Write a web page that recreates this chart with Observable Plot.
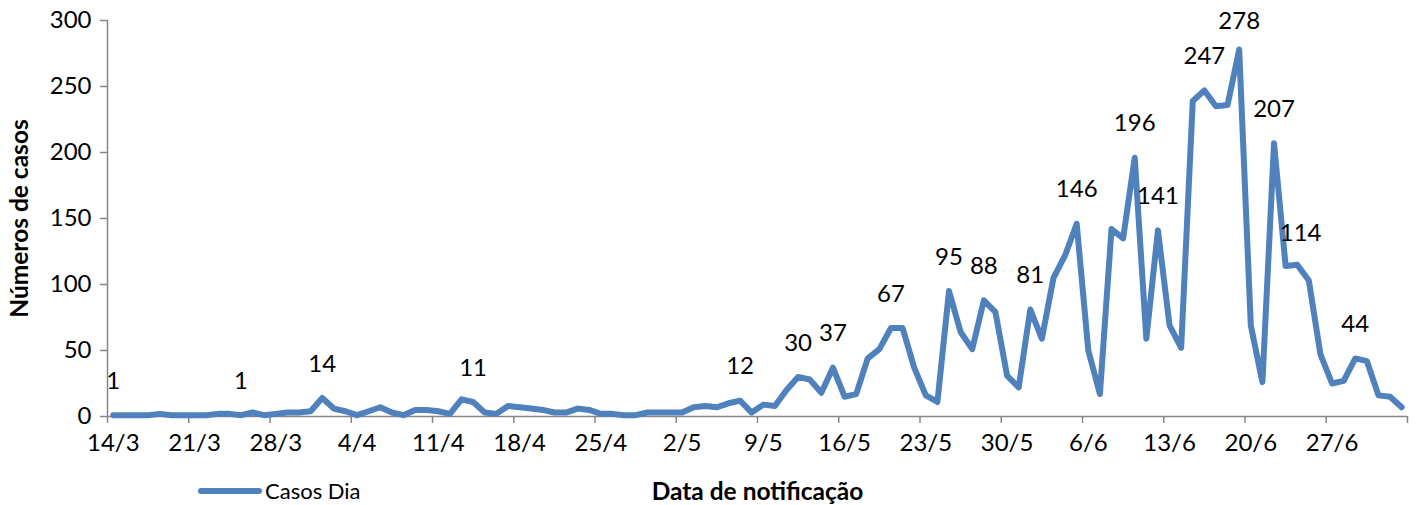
<!DOCTYPE html>
<html>
<head>
<meta charset="utf-8">
<script src="https://cdn.jsdelivr.net/npm/d3@7"></script>
<script src="https://cdn.jsdelivr.net/npm/@observablehq/plot@0.6"></script>
<style>
  body { margin: 0; background: #fff; font-family: Lato, sans-serif; }
  #wrap { position: relative; width: 1417px; height: 505px; }
  #legend { position: absolute; left: 198px; top: 477px; display: flex; align-items: center; font-size: 22px; color: #000; }
  #legend .sw { display: inline-block; width: 64px; height: 6px; border-radius: 3px; background: #4F81BD; margin-right: 3px; }
</style>
</head>
<body>
<div id="wrap"><div id="legend"><span class="sw"></span><span>Casos Dia</span></div></div>
<script>
const dates = [
  "14/3","15/3","16/3","17/3","18/3","19/3","20/3","21/3","22/3","23/3","24/3","25/3","26/3","27/3","28/3","29/3","30/3","31/3",
  "1/4","2/4","3/4","4/4","5/4","6/4","7/4","8/4","9/4","10/4","11/4","12/4","13/4","14/4","15/4","16/4","17/4","18/4","19/4","20/4","21/4","22/4","23/4","24/4","25/4","26/4","27/4","28/4","29/4","30/4",
  "1/5","2/5","3/5","4/5","5/5","6/5","7/5","8/5","9/5","10/5","11/5","12/5","13/5","14/5","15/5","16/5","17/5","18/5","19/5","20/5","21/5","22/5","23/5","24/5","25/5","26/5","27/5","28/5","29/5","30/5","31/5",
  "1/6","2/6","3/6","4/6","5/6","6/6","7/6","8/6","9/6","10/6","11/6","12/6","13/6","14/6","15/6","16/6","17/6","18/6","19/6","20/6","21/6","22/6","23/6","24/6","25/6","26/6","27/6","28/6","29/6","30/6",
  "1/7","2/7","3/7"
];
const casos = [
  1, 1, 1, 1, 2, 1, 1, 1, 1, 2,
  2, 1, 3, 1, 2, 3, 3, 4, 14, 6,
  4, 1, 4, 7, 3, 1, 5, 5, 4, 2,
  13, 11, 3, 2, 8, 7, 6, 5, 3, 3,
  6, 5, 2, 2, 1, 1, 3, 3, 3, 3,
  7, 8, 7, 10, 12, 3, 9, 8, 20, 30,
  28, 18, 37, 15, 17, 44, 51, 67, 67, 37,
  16, 11, 95, 64, 51, 88, 79, 31, 22, 81,
  59, 105, 122, 146, 50, 17, 142, 135, 196, 59,
  141, 69, 52, 239, 247, 235, 236, 278, 69, 26,
  207, 114, 115, 103, 47, 25, 27, 44, 42, 16,
  15, 7
];
const tickLabels = ["14/3","21/3","28/3","4/4","11/4","18/4","25/4","2/5","9/5","16/5","23/5","30/5","6/6","13/6","20/6","27/6"];
const yTicks = [0, 50, 100, 150, 200, 250, 300];
const labeledDates = ["14/3","25/3","1/4","14/4","7/5","12/5","15/5","20/5","25/5","28/5","1/6","5/6","10/6","12/6","16/6","22/6","29/6"];
const labeledTop = ["19/6"];
const labeledShifted = ["23/6"];

const data = dates.map((d, i) => ({date: d, casos: casos[i]}));
const W = 1417, H = 505, mL = 107, mR = 10, mT = 20, mB = 89;
const step = (W - mL - mR) / dates.length;
const boundaryTicks = dates.filter((d, i) => i % 7 === 6);
const gray = "#868686";
const fs = 24;
const fsT = 24.5;
const lbl = d => String(d.casos);

const chart = Plot.plot({
  width: W, height: H,
  marginLeft: mL, marginRight: mR, marginTop: mT, marginBottom: mB,
  style: {fontFamily: "Lato, sans-serif", fontSize: fs + "px", color: "#000", background: "#fff"},
  x: {type: "point", domain: dates, padding: 0.5, label: null},
  y: {domain: [0, 300], label: null},
  marks: [
    Plot.ruleY([0], {stroke: gray, strokeWidth: 1.5}),
    Plot.frame({anchor: "left", stroke: gray, strokeWidth: 1.5}),
    Plot.axisY({ticks: yTicks, tickSize: 7, tickPadding: 9, stroke: gray, strokeWidth: 1.5, fill: "#000", fontSize: fs, label: null}),
    Plot.axisY({ticks: [], label: "Números de casos", labelAnchor: "center", labelOffset: 97, labelArrow: "none", fontWeight: "bold", fill: "#000", fontSize: fsT}),
    Plot.axisX({ticks: tickLabels, tickSize: 0, tickPadding: 17, fill: "#000", fontSize: fs, label: null}),
    Plot.axisX({ticks: boundaryTicks, text: null, tickSize: 7, dx: step / 2, stroke: gray, strokeWidth: 1.5, label: null}),
    Plot.axisX({ticks: [dates[0]], text: null, tickSize: 7, dx: -step / 2, stroke: gray, strokeWidth: 1.5, label: null}),
    Plot.axisX({ticks: [], label: "Data de notificação", labelAnchor: "center", labelOffset: 83, labelArrow: "none", fontWeight: "bold", fill: "#000", fontSize: fsT}),
    Plot.line(data, {x: "date", y: "casos", stroke: "#4F81BD", strokeWidth: 6, strokeLinejoin: "round", strokeLinecap: "round"}),
    Plot.text(data.filter(d => labeledDates.includes(d.date)), {x: "date", y: "casos", text: lbl, dy: -34, fontSize: fs, fill: "#000"}),
    Plot.text(data.filter(d => labeledTop.includes(d.date)), {x: "date", y: "casos", text: lbl, dy: -28, fontSize: fs, fill: "#000"}),
    Plot.text(data.filter(d => labeledShifted.includes(d.date)), {x: "date", y: "casos", text: lbl, dy: -33, dx: 15, fontSize: fs, fill: "#000"})
  ]
});
document.getElementById("wrap").prepend(chart);
</script>
</body>
</html>
